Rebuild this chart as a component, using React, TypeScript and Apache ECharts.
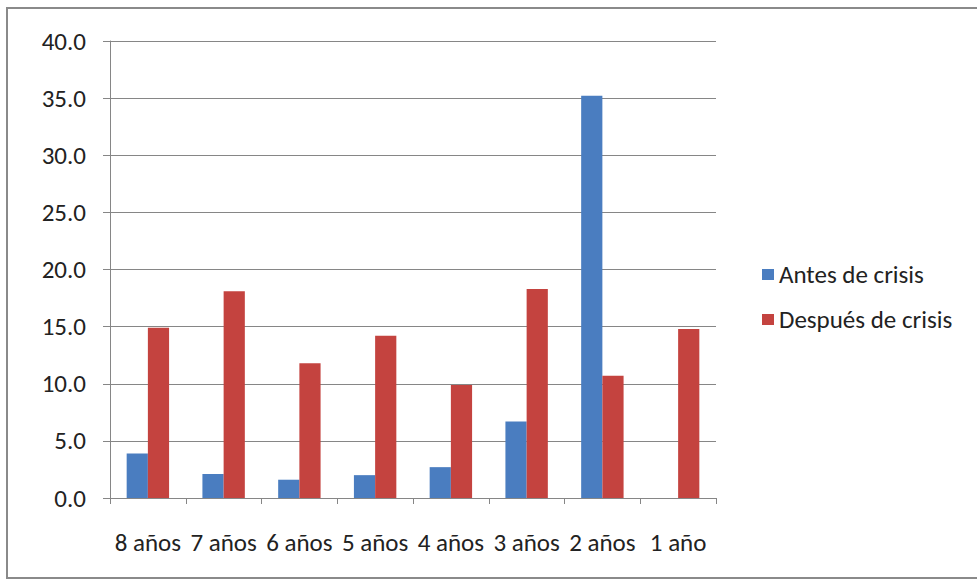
import React, { useEffect, useRef } from "react";
import * as echarts from "echarts";

const categories = ["8 años", "7 años", "6 años", "5 años", "4 años", "3 años", "2 años", "1 año"];
const antesDeCrisis = [3.9, 2.1, 1.6, 2.0, 2.7, 6.7, 35.2, 0];
const despuesDeCrisis = [14.9, 18.1, 11.8, 14.2, 9.9, 18.3, 10.7, 14.8];
const seriesNames = ["Antes de crisis", "Después de crisis"];

const FONT = "Carlito, 'Open Sans', sans-serif";

export default function App() {
  const ref = useRef<HTMLDivElement>(null);
  useEffect(() => {
    if (!ref.current) return;
    const chart = echarts.init(ref.current, undefined, { renderer: "svg" });
    chart.setOption({
      animation: false,
      backgroundColor: "#ffffff",
      textStyle: { fontFamily: FONT, color: "#222" },
      graphic: [
        {
          type: "rect",
          shape: { x: 7, y: 8, width: 972, height: 570 },
          style: { fill: "none", stroke: "#8a8a8a", lineWidth: 2 },
          silent: true,
        },
      ],
      grid: { left: 110, right: 261, top: 41, bottom: 83, containLabel: false },
      legend: {
        orient: "vertical",
        left: 757,
        top: 257,
        itemWidth: 12,
        itemHeight: 11,
        itemGap: 20,
        icon: "rect",
        textStyle: { fontFamily: FONT, fontSize: 25, color: "#222" },
        data: seriesNames,
      },
      xAxis: {
        type: "category",
        data: categories,
        axisLine: { lineStyle: { color: "#868686", width: 1 } },
        axisTick: { show: true, length: 6, lineStyle: { color: "#868686" } },
        axisLabel: { fontFamily: FONT, fontSize: 25, color: "#222", margin: 32, interval: 0 },
      },
      yAxis: {
        type: "value",
        min: 0,
        max: 40,
        interval: 5,
        axisLine: { show: true, lineStyle: { color: "#868686", width: 1 } },
        axisTick: { show: true, length: 7, lineStyle: { color: "#868686" } },
        axisLabel: {
          fontFamily: FONT,
          fontSize: 25,
          color: "#222",
          margin: 24,
          formatter: (v: number) => v.toFixed(1),
        },
        splitLine: { show: true, lineStyle: { color: "#868686", width: 1 } },
      },
      series: [
        {
          name: seriesNames[0],
          type: "bar",
          data: antesDeCrisis,
          barGap: "0%",
          barCategoryGap: "44%",
          itemStyle: { color: "#4a7dc0" },
        },
        {
          name: seriesNames[1],
          type: "bar",
          data: despuesDeCrisis,
          barGap: "0%",
          barCategoryGap: "44%",
          itemStyle: { color: "#c4433f" },
        },
      ],
    });
    return () => chart.dispose();
  }, []);
  return (
    <div
      ref={ref}
      style={{ position: "absolute", left: 0, top: 0, width: 977, height: 581 }}
    />
  );
}
